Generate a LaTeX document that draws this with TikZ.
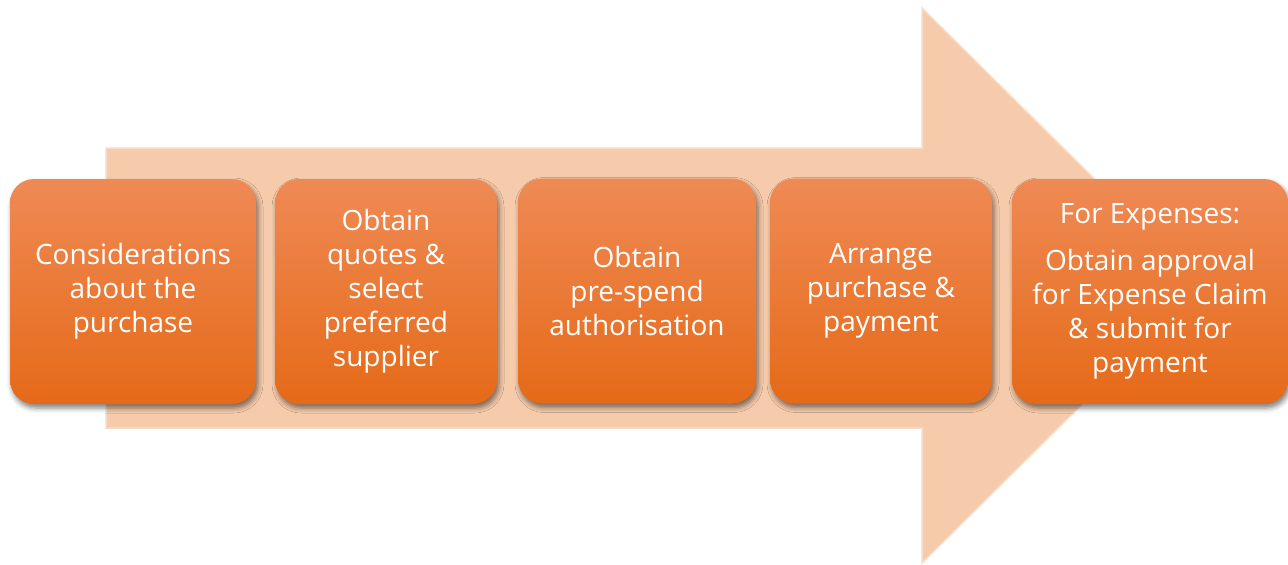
\documentclass[tikz,border=0pt]{standalone}
\usepackage{fontspec}
\setmainfont{Open Sans}
\usetikzlibrary{shadows.blur}
\definecolor{arrowfill}{HTML}{F6CBAC}
\definecolor{arrowedge}{HTML}{FADCC6}
\definecolor{boxtop}{HTML}{EF8A55}
\definecolor{boxmid}{HTML}{F37E2F}
\definecolor{boxbot}{HTML}{E56A18}
\begin{document}
\begin{tikzpicture}[x=1pt,y=-1pt,
  stepbox/.style={rectangle, rounded corners=24pt, minimum height=225pt,
    top color=boxtop, middle color=boxmid, bottom color=boxbot,
    text=white, align=center, inner sep=0pt,
    font=\fontsize{28}{34}\selectfont,
    blur shadow={shadow xshift=2pt, shadow yshift=-4pt,
      shadow blur radius=5pt, shadow opacity=50}},
  bigarrow/.style={fill=arrowfill, draw=arrowedge, line width=1.5pt, line join=miter}]
\useasboundingbox (0,0) rectangle (1288,565);

% broad process arrow behind the steps
\draw[bigarrow] (106,148) -- (922,148) -- (922,8) -- (1202,285.5)
  -- (922,563) -- (922,428) -- (106,428) -- cycle;

% process steps
\node[stepbox, minimum width=246pt] (s1) at (133,291.5)
  {Considerations\\about the\\purchase};
\node[stepbox, minimum width=222pt] (s2) at (386,291.5)
  {Obtain\\quotes \&\\select\\preferred\\supplier};
\node[stepbox, minimum width=238pt] (s3) at (637,291)
  {Obtain\\pre-spend\\authorisation};
\node[stepbox, minimum width=222pt] (s4) at (881,291)
  {Arrange\\purchase \&\\payment};
\node[stepbox, minimum width=276pt] (s5) at (1150,291.5)
  {For Expenses:\\[13pt]Obtain approval\\for Expense Claim\\\& submit for\\payment};
\end{tikzpicture}
\end{document}
